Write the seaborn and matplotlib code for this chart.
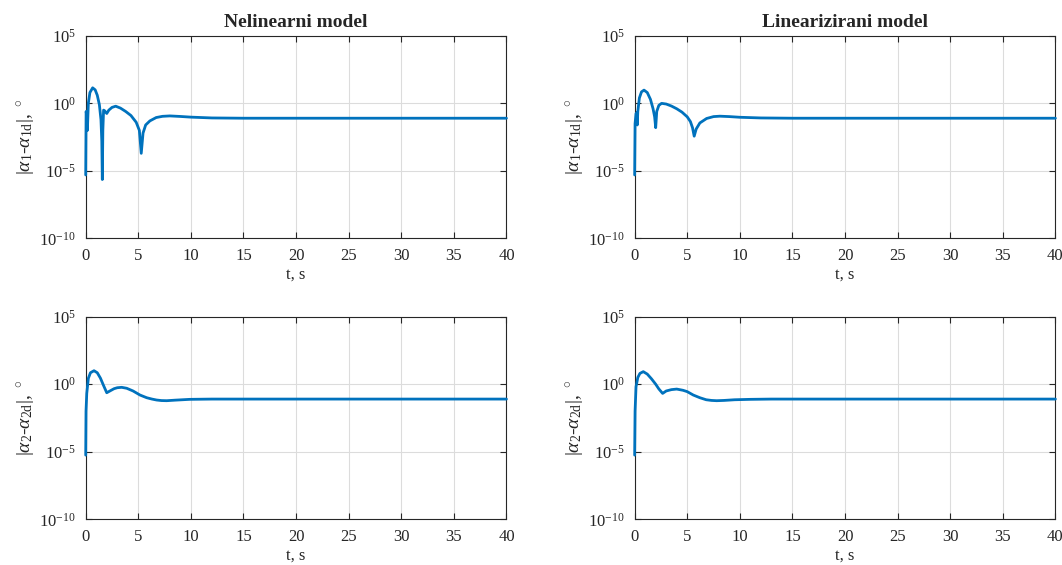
import numpy as np
import pandas as pd
import seaborn as sns
import matplotlib.pyplot as plt

# values, as log10 of the error
t_nl1 = [0, 0.04, 0.1, 0.16, 0.25, 0.4, 0.66, 0.9, 1.1, 1.3, 1.45, 1.53, 1.58, 1.63, 1.7, 1.8, 2.0, 2.2, 2.5, 2.85,
         3.3, 3.8, 4.3, 4.8, 5.1, 5.28, 5.45, 5.7, 6.1, 6.7, 7.3, 8.0, 9.0, 10, 12, 15, 20, 40]
e_nl1 = [-5.3, -0.6, -0.9, -2.0, 0.0, 0.8, 1.15, 1.0, 0.6, -0.1, -1.2, -2.8, -5.64, -2.0, -0.5, -0.55, -0.75, -0.5,
         -0.3, -0.21, -0.35, -0.6, -0.9, -1.4, -2.0, -3.7, -2.2, -1.6, -1.3, -1.05, -0.96, -0.93, -0.97, -1.02,
         -1.08, -1.1, -1.1, -1.1]

t_lin1 = [0, 0.04, 0.13, 0.2, 0.25, 0.3, 0.45, 0.65, 0.89, 1.2, 1.5, 1.75, 1.9, 2.0, 2.1, 2.3, 2.56, 3.0, 3.5, 4.0,
          4.5, 5.0, 5.3, 5.5, 5.66, 5.85, 6.2, 6.84, 7.5, 8.1, 9.0, 10, 12, 15, 20, 40]
e_lin1 = [-5.3, -1.5, -0.75, -0.7, -1.6, -0.6, 0.4, 0.85, 0.98, 0.8, 0.3, -0.4, -1.0, -1.8, -0.6, -0.15, 0.0, -0.05,
          -0.2, -0.4, -0.65, -1.0, -1.35, -1.8, -2.43, -1.9, -1.45, -1.12, -0.98, -0.95, -0.98, -1.03, -1.08, -1.1,
          -1.1, -1.1]

t_nl2 = [0, 0.03, 0.1, 0.25, 0.45, 0.79, 1.1, 1.4, 1.7, 2.0, 2.3, 2.7, 3.0, 3.42, 3.9, 4.5, 5.16, 5.8, 6.3, 6.74,
         7.2, 7.7, 8.5, 9.9, 12, 15, 20, 40]
e_nl2 = [-5.25, -2.0, -0.68, 0.43, 0.85, 1.0, 0.85, 0.45, -0.1, -0.63, -0.5, -0.33, -0.26, -0.23, -0.3, -0.5, -0.8,
         -1.0, -1.1, -1.17, -1.21, -1.22, -1.18, -1.12, -1.1, -1.1, -1.1, -1.1]

t_lin2 = [0, 0.04, 0.13, 0.3, 0.5, 0.82, 1.2, 1.6, 2.0, 2.3, 2.66, 3.0, 3.5, 4.0, 4.6, 5.0, 5.57, 6.2, 6.8, 7.3,
          7.8, 8.5, 9.5, 11, 13, 20, 40]
e_lin2 = [-5.25, -2.0, -0.19, 0.5, 0.8, 0.93, 0.75, 0.4, 0.0, -0.35, -0.68, -0.5, -0.4, -0.36, -0.45, -0.55, -0.8,
          -1.0, -1.15, -1.2, -1.22, -1.2, -1.15, -1.12, -1.1, -1.1, -1.1]

titles = ['Nelinearni model', 'Linearizirani model']
ylabels = [r'$|\alpha_1$-$\alpha_{1\mathrm{d}}|$, $^\circ$', r'$|\alpha_2$-$\alpha_{2\mathrm{d}}|$, $^\circ$']

sns.set_style('ticks')
plt.rcParams['font.family'] = ['Liberation Serif', 'DejaVu Serif']
plt.rcParams['mathtext.fontset'] = 'custom'
plt.rcParams['mathtext.rm'] = 'Liberation Serif'
plt.rcParams['mathtext.it'] = 'Liberation Serif:italic'
plt.rcParams['mathtext.bf'] = 'Liberation Serif:bold'

fig = plt.figure(figsize=(10.62, 5.65), dpi=100)
lefts = [0.0807, 0.5976]
bottoms = [0.578, 0.0809]
w, h = 0.3962, 0.3586

series = [[(t_nl1, e_nl1), (t_lin1, e_lin1)], [(t_nl2, e_nl2), (t_lin2, e_lin2)]]

for r in range(2):
    for c in range(2):
        ax = fig.add_axes([lefts[c], bottoms[r], w, h])
        t, e = series[r][c]
        df = pd.DataFrame({'t': t, 'err': 10.0 ** np.array(e)})
        sns.lineplot(data=df, x='t', y='err', ax=ax, color='#0072BD', linewidth=2.0, zorder=3, clip_on=False)
        ax.set_yscale('log')
        ax.set_xlim(0, 40)
        ax.set_ylim(1e-10, 1e5)
        ax.set_yticks([1e-10, 1e-5, 1e0, 1e5])
        ax.minorticks_off()
        ax.set_xticks(range(0, 41, 5))
        ax.grid(True, color='#dcdcdc', linewidth=0.8)
        ax.tick_params(direction='in', labelsize=12, length=4, pad=7, top=True, right=True, colors='#262626')
        for sp in ax.spines.values():
            sp.set_visible(True)
            sp.set_color('#262626')
            sp.set_linewidth(0.8)
            sp.set_zorder(2.5)
        ax.set_xlabel('t, s', fontsize=12, labelpad=2)
        ax.set_ylabel(ylabels[r], fontsize=14, labelpad=2)
        if r == 0:
            ax.set_title(titles[c], fontsize=14, fontweight='bold', pad=6)

fig.savefig('out.png', dpi=100)
